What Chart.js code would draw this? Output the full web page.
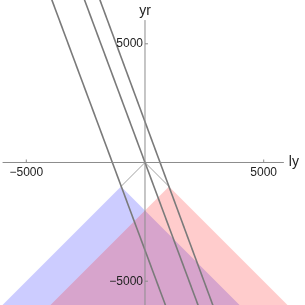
<!DOCTYPE html>
<html>
<head>
<meta charset="utf-8">
<script src="https://cdn.jsdelivr.net/npm/chart.js@4"></script>
<style>
  html, body { margin: 0; padding: 0; background: #fff; }
  canvas { display: block; }
</style>
</head>
<body>
<canvas id="chart" width="305" height="305"></canvas>
<script>
// view window (ly, yr)
const xRange = [-6108, 6740];
const tRange = [-6003, 6845];

// axes
const xAxisSpan = [-6000, 5850];
const tAxisSpan = [6000, -7000];
const tickValues = [-5000, 5000];
const tickLabels = ['\u22125000', '5000'];

// three parallel worldlines, x at t = 7000 and t = -7000
const lineT = [7000, -7000];
const lineTopX = [-3980, -2604, -1955];
const lineBottomX = [1230, 2604, 3225];

// past light cones (apex x, apex t), and light rays from the origin
const coneApexX = [-1010, 1010];
const coneApexT = [-1010, -1010];
const coneBottomT = -7000;
const coneLeftX = [-7000, -4980];
const coneRightX = [4980, 7000];
const coneColors = ['rgba(0,0,255,0.2)', 'rgba(255,0,0,0.2)'];

const datasets = [];

lineTopX.forEach((x0, i) => {
    datasets.push({
        data: [{ x: x0, y: lineT[0] }, { x: lineBottomX[i], y: lineT[1] }],
        borderColor: '#7a7a7a',
        borderWidth: 1.6,
        order: 1
    });
});

coneApexX.forEach((ax, i) => {
    datasets.push({
        data: [{ x: 0, y: 0 }, { x: ax, y: coneApexT[i] }],
        borderColor: '#8a8a8a',
        borderWidth: 0.8,
        order: 2
    });
});

coneApexX.forEach((ax, i) => {
    datasets.push({
        data: [
            { x: coneLeftX[i], y: coneBottomT },
            { x: ax, y: coneApexT[i] },
            { x: coneRightX[i], y: coneBottomT }
        ],
        borderWidth: 0,
        borderColor: 'rgba(0,0,0,0)',
        backgroundColor: coneColors[i],
        fill: { value: coneBottomT },
        order: 5 - i
    });
});

const axesPlugin = {
    id: 'axes',
    afterDatasetsDraw(chart) {
        const { ctx, scales: { x, y } } = chart;
        const x0 = x.getPixelForValue(0);
        const y0 = y.getPixelForValue(0);
        ctx.save();
        ctx.strokeStyle = '#8c8c8c';
        ctx.lineWidth = 1;
        ctx.beginPath();
        ctx.moveTo(x.getPixelForValue(xAxisSpan[0]), y0);
        ctx.lineTo(x.getPixelForValue(xAxisSpan[1]), y0);
        ctx.moveTo(x0, y.getPixelForValue(tAxisSpan[0]));
        ctx.lineTo(x0, y.getPixelForValue(tAxisSpan[1]));
        tickValues.forEach(v => {
            const px = x.getPixelForValue(v);
            ctx.moveTo(px, y0);
            ctx.lineTo(px, y0 - 3);
            const py = y.getPixelForValue(v);
            ctx.moveTo(x0, py);
            ctx.lineTo(x0 + 3, py);
        });
        ctx.stroke();

        ctx.fillStyle = '#222';
        ctx.font = '12px "Liberation Sans", Arial, sans-serif';
        ctx.textAlign = 'center';
        ctx.textBaseline = 'top';
        tickValues.forEach((v, i) => {
            ctx.fillText(tickLabels[i], x.getPixelForValue(v), y0 + 4);
        });
        ctx.textAlign = 'right';
        ctx.textBaseline = 'middle';
        tickValues.forEach((v, i) => {
            ctx.fillText(tickLabels[i], x0 - 2, y.getPixelForValue(v));
        });

        ctx.font = '14px "Liberation Sans", Arial, sans-serif';
        ctx.textAlign = 'left';
        ctx.textBaseline = 'middle';
        ctx.fillText('ly', x.getPixelForValue(xAxisSpan[1]) + 5, y0);
        ctx.textAlign = 'center';
        ctx.textBaseline = 'bottom';
        ctx.fillText('yr', x0, y.getPixelForValue(tAxisSpan[0]) - 2);
        ctx.restore();
    }
};

new Chart(document.getElementById('chart'), {
    type: 'scatter',
    data: { datasets: datasets },
    options: {
        responsive: false,
        animation: false,
        devicePixelRatio: 1,
        layout: { padding: 0 },
        elements: {
            point: { radius: 0 },
            line: { tension: 0 }
        },
        datasets: { scatter: { showLine: true } },
        plugins: {
            legend: { display: false },
            tooltip: { enabled: false }
        },
        scales: {
            x: { type: 'linear', min: xRange[0], max: xRange[1], display: false },
            y: { type: 'linear', min: tRange[0], max: tRange[1], display: false }
        }
    },
    plugins: [axesPlugin]
});
</script>
</body>
</html>
